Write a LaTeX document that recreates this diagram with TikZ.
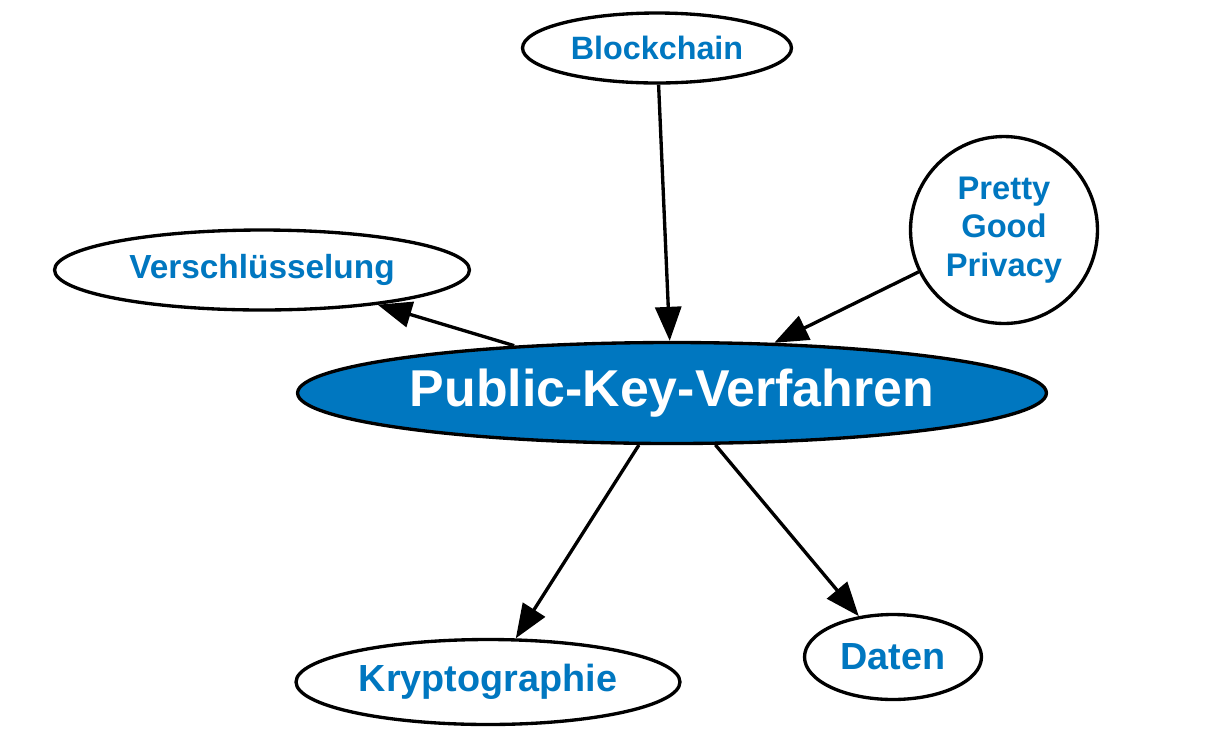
\documentclass[tikz,border=0pt]{standalone}
\usepackage{fontspec}
\setmainfont{Liberation Sans}
\usetikzlibrary{arrows.meta, shapes.geometric}
\definecolor{pkblue}{HTML}{0077C0}

\begin{document}
\begin{tikzpicture}[x=0.02cm, y=-0.02cm,
    topic/.style={ellipse, draw=black, line width=1.9pt, fill=white, inner sep=0pt, text=pkblue},
    link/.style={line width=1.9pt, -{Triangle[length=0.68cm, width=0.52cm]}}]
    \useasboundingbox (0,0) rectangle (1225,735);
    \node[topic, minimum width=5.38cm, minimum height=1.4cm, font=\bfseries\fontsize{18.4}{22}\selectfont] (blockchain) at (657,48) {Blockchain};
    \node[topic, circle, minimum size=3.74cm, align=center, font=\bfseries\fontsize{18.6}{21.8}\selectfont] (pgp) at (1004,230) {Pretty\\Good\\Privacy};
    \node[topic, minimum width=8.3cm, minimum height=1.6cm, font=\bfseries\fontsize{19}{23}\selectfont] (versch) at (262,270) {Verschlüsselung};
    \node[topic, fill=pkblue, text=white, minimum width=14.98cm, minimum height=2.02cm, font=\bfseries\fontsize{29.5}{34}\selectfont] (pkv) at (672,393) {Public-Key-Verfahren};
    \node[topic, minimum width=7.68cm, minimum height=1.7cm, font=\bfseries\fontsize{21.5}{26}\selectfont] (krypto) at (488,682) {Kryptographie};
    \node[topic, minimum width=3.54cm, minimum height=1.7cm, font=\bfseries\fontsize{21.5}{26}\selectfont] (daten) at (893,657) {Daten};
    \draw[link] (blockchain) -- (pkv);
    \draw[link] (pgp) -- (pkv);
    \draw[link] (pkv) -- (versch);
    \draw[link] (pkv) -- (krypto);
    \draw[link] (pkv) -- (daten);
\end{tikzpicture}
\end{document}
